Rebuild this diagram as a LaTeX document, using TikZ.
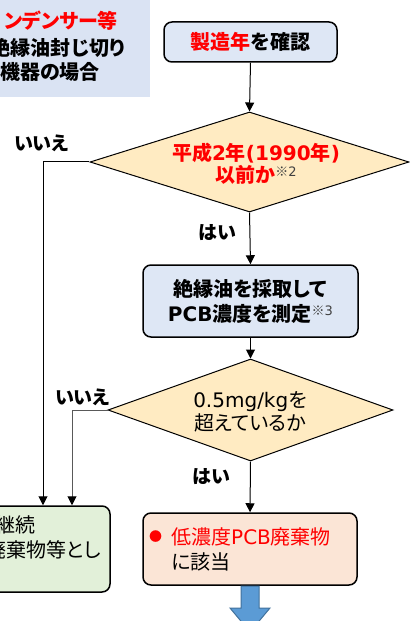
\documentclass[tikz,border=0pt]{standalone}
\usepackage{fontspec}
\newfontfamily\jp[RawFeature=+palt]{Noto Sans CJK JP}
\newfontfamily\lat{DejaVu Sans}
\usetikzlibrary{arrows.meta,shapes.geometric}
\definecolor{tlblue}{HTML}{DAE3F3}
\definecolor{boxblue}{HTML}{DEE7F5}
\definecolor{diafill}{HTML}{FFEBC2}
\definecolor{greenfill}{HTML}{E2F0D9}
\definecolor{pinkfill}{HTML}{FBE5D6}
\definecolor{arrowblue}{HTML}{5B9BD5}
\definecolor{arrowedge}{HTML}{41719C}
\definecolor{jred}{HTML}{FF0000}
\definecolor{note}{HTML}{404040}
\newcommand{\notemark}[1]{{\color{note}\mdseries\fontsize{13bp}{13bp}\selectfont\raisebox{6bp}{※{\lat #1}}}}
\begin{document}
\begin{tikzpicture}[x=1bp,y=-1bp,
  box/.style={draw=black, line width=1.5bp, rounded corners=8bp, inner sep=0pt, align=center},
  dia/.style={shape=diamond, draw=black, line width=1bp, fill=diafill, inner sep=0pt},
  conn/.style={line width=1bp, -{Triangle[length=9bp,width=9bp,color=black]}},
  bold/.style={font={\jp\bfseries\fontsize{20bp}{25bp}\selectfont}, inner sep=0pt, align=center},
  plain/.style={font={\jp\fontsize{20bp}{23bp}\selectfont}, inner sep=0pt, align=center},
  lbl/.style={font={\jp\bfseries\fontsize{19bp}{22bp}\selectfont}, inner sep=0pt}
]
\path[use as bounding box] (0,0) rectangle (409,621);

% top-left panel
\node[fill=tlblue, minimum width=160bp, minimum height=102bp, inner sep=0pt] (tl) at (70,46) {};
\node[bold, anchor=east, text=jred] (tl1) at (118,21) {ンデンサー等};
\node[bold, anchor=east] (tl2) at (125,48) {絶縁油封じ切り};
\node[bold, anchor=east] (tl3) at (100,72) {機器の場合};

% box 1
\node[box, fill=boxblue, minimum width=173bp, minimum height=40bp, font={\jp\bfseries\fontsize{20bp}{25bp}\selectfont}] (b1) at (250.5,42) {{\color{jred}製造年}を確認};

% diamond 1
\node[dia, minimum width=319bp, minimum height=100bp] (d1) at (249.5,162) {};
\node[bold, text=jred, font={\jp\bfseries\fontsize{20bp}{22bp}\selectfont}] (d1t) at (256,164) {平成{\lat 2}年{\lat (1990}年{\lat )}\\以前か\notemark{2}};

% box 2
\node[box, fill=boxblue, minimum width=215bp, minimum height=72bp, font={\jp\bfseries\fontsize{20bp}{25bp}\selectfont}] (b2) at (250.5,301) {絶縁油を採取して\\{\lat PCB}濃度を測定\notemark{3}};

% diamond 2
\node[dia, minimum width=285bp, minimum height=102bp] (d2) at (250.5,410) {};
\node[plain] (d2t) at (250,411.5) {{\lat 0.5mg/kg}を\\超えているか};

% green box (left, cut)
\node[box, fill=greenfill, minimum width=150bp, minimum height=86bp] (gb) at (35,549) {};
\node[plain, anchor=east] (gb1) at (36,525) {継続};
\node[plain, anchor=east] (gb2) at (101,550) {廃棄物等とし};

% box 4
\node[box, fill=pinkfill, minimum width=214bp, minimum height=72bp] (b4) at (250,549) {};
\node[plain, text=jred, font={\jp\fontsize{13bp}{13bp}\selectfont}] (bul) at (155.5,537) {●};
\node[plain, anchor=west, align=left, font={\jp\fontsize{20bp}{25bp}\selectfont}] (b4t) at (171,549.5) {{\color{jred}低濃度{\lat PCB}廃棄物}\\に該当};

% labels
\node[lbl] (no1) at (41.5,143) {いいえ};
\node[lbl] (yes1) at (217.5,233) {はい};
\node[lbl] (no2) at (82.5,397) {いいえ};
\node[lbl] (yes2) at (211.5,477) {はい};

% connectors
\coordinate (x1) at (43,0);
\coordinate (x2) at (72,0);
\draw[conn] (b1.south) -- (d1.north);
\draw[conn] (d1.south) -- (b2.north);
\draw[conn] (b2.south) -- (d2.north);
\draw[conn] (d2.south) -- (b4.north);
\draw[conn] (d1.west) -| (x1 |- gb.north);
\draw[conn, draw=black!65] (d2.west) -| (x2 |- gb.north);

% big blue arrow
\draw[fill=arrowblue, draw=arrowedge, line width=1bp]
  (241,586) -- (259,586) -- (259,608) -- (270,608) -- (250,632) -- (230,608) -- (241,608) -- cycle;
\end{tikzpicture}
\end{document}
